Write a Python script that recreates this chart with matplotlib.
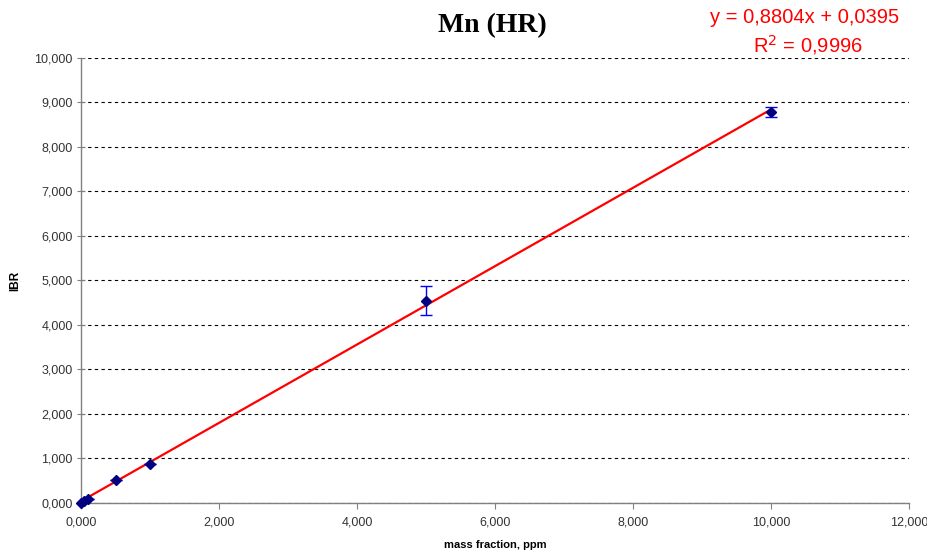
import numpy as np
import matplotlib.pyplot as plt
from matplotlib.ticker import FuncFormatter

# calibration data (mass fraction vs IBR)
mass_fraction = [0.0, 0.05, 0.1, 0.5, 1.0, 5.0, 10.0]
ibr = [0.0, 0.04, 0.09, 0.52, 0.87, 4.55, 8.79]
ibr_err = [0.0, 0.0, 0.0, 0.0, 0.0, 0.32, 0.12]

slope = 0.8804
intercept = 0.0395
r2 = 0.9996

x_ticks = [0, 2, 4, 6, 8, 10, 12]
y_ticks = [0, 1, 2, 3, 4, 5, 6, 7, 8, 9, 10]


def comma_fmt(v, pos):
    return f"{v:.3f}".replace(".", ",")


fig = plt.figure(figsize=(9.28, 5.55), dpi=100)
ax = fig.add_axes([0.0873, 0.0937, 0.8922, 0.8018])

# fit line
fit_x = np.array([mass_fraction[0], mass_fraction[-1]])
ax.plot(fit_x, slope * fit_x + intercept, color="#ff0000", linewidth=1.6,
        zorder=2, clip_on=False)

# points with error bars
ax.errorbar(
    mass_fraction, ibr, yerr=ibr_err,
    fmt="none", ecolor="#0000ff", elinewidth=1, capsize=4, capthick=1, zorder=3
)
ax.plot(
    mass_fraction, ibr, linestyle="none", marker="D", markersize=5.5,
    color="#000080", zorder=4, clip_on=False
)

ax.set_xlim(0, 12)
ax.set_ylim(0, 10)
ax.set_xticks(x_ticks)
ax.set_yticks(y_ticks)
ax.xaxis.set_major_formatter(FuncFormatter(comma_fmt))
ax.yaxis.set_major_formatter(FuncFormatter(comma_fmt))

ax.yaxis.grid(True, linestyle=(0, (3, 3)), color="#000000", linewidth=0.8)
ax.set_axisbelow(True)

for side in ["top", "right"]:
    ax.spines[side].set_visible(False)
for side in ["left", "bottom"]:
    ax.spines[side].set_color("#808080")
    ax.spines[side].set_linewidth(1)

ax.tick_params(axis="x", direction="out", length=4, color="#808080",
               labelsize=9, labelcolor="#333333", pad=6)
ax.tick_params(axis="y", direction="inout", length=6, color="#808080",
               labelsize=9, labelcolor="#333333", pad=3)
for lab in ax.get_xticklabels() + ax.get_yticklabels():
    lab.set_family("Liberation Sans")

ax.set_xlabel("mass fraction, ppm", fontsize=8, fontweight="bold",
              family="Liberation Sans", labelpad=8)
ax.set_ylabel("IBR", fontsize=8.5, fontweight="bold",
              family="Liberation Sans", labelpad=0)
ax.yaxis.set_label_coords(-0.072, 0.5)

fig.text(0.531, 0.953, "Mn (HR)", ha="center", va="center",
         fontsize=20, fontweight="bold", family="Liberation Serif")

fig.text(0.867, 0.968, f"y = {slope:.4f}x + {intercept:.4f}".replace(".", ","),
         ha="center", va="center", fontsize=14.5, color="#ff0000",
         family="Liberation Sans")
fig.text(0.871, 0.918, f"R$^2$ = {r2:.4f}".replace(".", ","),
         ha="center", va="center", fontsize=14.5, color="#ff0000",
         family="Liberation Sans")

fig.savefig("out.png", dpi=100)
